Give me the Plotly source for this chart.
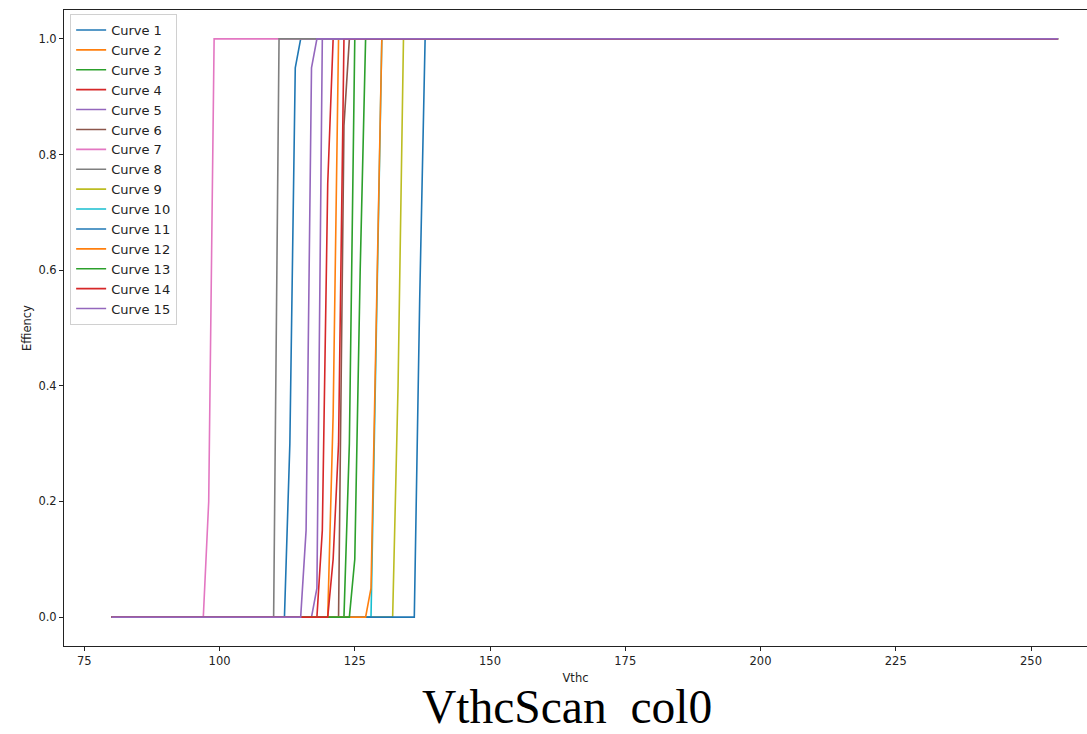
import plotly.graph_objects as go

# ---- data (Vthc, efficiency) ----
x_c1 = [80, 112, 113, 114, 115, 255];  y_c1 = [0, 0, 0.3, 0.95, 1, 1]
x_c2 = [80, 120, 121, 122, 255];       y_c2 = [0, 0, 0.35, 1, 1]
x_c3 = [80, 123, 124, 125, 255];       y_c3 = [0, 0, 0.3, 1, 1]
x_c4 = [80, 118, 119, 120, 121, 255];  y_c4 = [0, 0, 0.15, 0.75, 1, 1]
x_c5 = [80, 117, 118, 119, 255];       y_c5 = [0, 0, 0.05, 1, 1]
x_c6 = [80, 122, 123, 124, 255];       y_c6 = [0, 0, 0.85, 1, 1]
x_c7 = [80, 97, 98, 99, 255];          y_c7 = [0, 0, 0.2, 1, 1]
x_c8 = [80, 110, 111, 255];            y_c8 = [0, 0, 1, 1]
x_c9 = [80, 132, 133, 134, 255];       y_c9 = [0, 0, 0.4, 1, 1]
x_c10 = [80, 128, 129, 130, 255];      y_c10 = [0, 0, 0.5, 1, 1]
x_c11 = [80, 136, 137, 138, 255];      y_c11 = [0, 0, 0.55, 1, 1]
x_c12 = [80, 127, 128, 129, 130, 255]; y_c12 = [0, 0, 0.05, 0.5, 1, 1]
x_c13 = [80, 124, 125, 126, 127, 255]; y_c13 = [0, 0, 0.1, 0.6, 1, 1]
x_c14 = [80, 120, 121, 122, 123, 255]; y_c14 = [0, 0, 0.1, 0.3, 1, 1]
x_c15 = [80, 115, 116, 117, 118, 255]; y_c15 = [0, 0, 0.15, 0.95, 1, 1]

curve_names = [f"Curve {i}" for i in range(1, 16)]
xs = [x_c1, x_c2, x_c3, x_c4, x_c5, x_c6, x_c7, x_c8, x_c9, x_c10,
      x_c11, x_c12, x_c13, x_c14, x_c15]
ys = [y_c1, y_c2, y_c3, y_c4, y_c5, y_c6, y_c7, y_c8, y_c9, y_c10,
      y_c11, y_c12, y_c13, y_c14, y_c15]

x_ticks = [75, 100, 125, 150, 175, 200, 225, 250]
y_ticks = [0.0, 0.2, 0.4, 0.6, 0.8, 1.0]

palette = ["#1f77b4", "#ff7f0e", "#2ca02c", "#d62728", "#9467bd",
           "#8c564b", "#e377c2", "#7f7f7f", "#bcbd22", "#17becf"]

W, H = 1087, 734
L, R, T, B = 64, 0, 10, 88

fig = go.Figure()
for i, (name, xv, yv) in enumerate(zip(curve_names, xs, ys)):
    fig.add_trace(go.Scatter(x=xv, y=yv, mode="lines", name=name,
                             line=dict(color=palette[i % 10], width=1.6)))

def py(p):  # pixel row -> paper y
    return (H - B - p) / (H - B - T)

txt = "#222222"
fig.update_layout(
    width=W, height=H,
    margin=dict(l=L, r=R, t=T, b=B),
    plot_bgcolor="white", paper_bgcolor="white",
    font=dict(family="DejaVu Sans", size=11.5, color=txt),
    showlegend=True,
    legend=dict(x=0.006, y=py(14), xanchor="left", yanchor="top",
                bgcolor="rgba(255,255,255,0.8)", bordercolor="#d0d0d0",
                borderwidth=1, font=dict(size=13, color=txt),
                itemwidth=30, tracegroupgap=0),
    xaxis=dict(range=[71.25, 260.35], tickvals=x_ticks, showgrid=False,
               zeroline=False, showline=True, linecolor="#222", linewidth=1,
               mirror=True, ticks="outside", ticklen=4, tickcolor="#222",
               title=dict(text="Vthc", standoff=7, font=dict(size=11.5))),
    yaxis=dict(range=[-0.05, 1.05], tickvals=y_ticks, tickformat=".1f",
               showgrid=False, zeroline=False, showline=True,
               linecolor="#222", linewidth=1, ticks="outside", ticklen=4,
               tickcolor="#222",
               title=dict(text="Effiency", standoff=4, font=dict(size=11.5))),
    annotations=[dict(text="VthcScan\u00a0\u00a0col0", xref="paper",
                      yref="paper", x=(566.7 - L) / (W - L - R),
                      y=py(734), xanchor="center", yanchor="bottom",
                      valign="bottom", height=48,
                      showarrow=False, borderpad=0,
                      font=dict(family="Liberation Serif", size=47.5,
                                color="black"))],
)

fig.write_html("out.html")
